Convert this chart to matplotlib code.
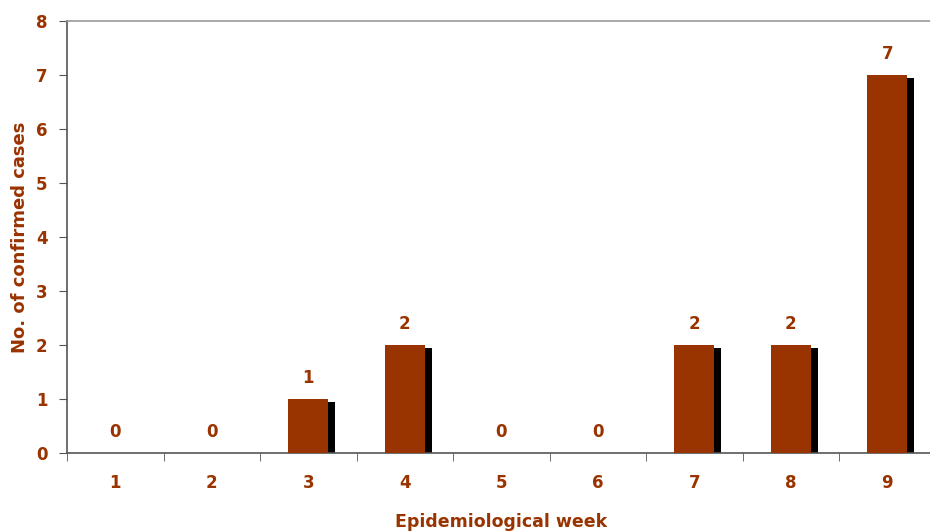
import numpy as np
import matplotlib.pyplot as plt

weeks = ["1", "2", "3", "4", "5", "6", "7", "8", "9"]
cases = [0, 0, 1, 2, 0, 0, 2, 2, 7]

red = "#993300"
plt.rcParams["font.family"] = ["DejaVu Sans"]
plt.rcParams["font.weight"] = "bold"

fig = plt.figure(figsize=(9.3, 5.32), dpi=100)
# the plot area runs a little past the right edge of the picture
ax = fig.add_axes([67 / 930, 79 / 532, 868.5 / 930, 432 / 532])

x = np.arange(len(weeks))
vals = np.array(cases, dtype=float)
w = 0.415

# black drop shadow behind the bars
has = vals > 0
ax.bar(x[has] + 0.073, vals[has] - 0.055, width=w, color="black", zorder=2)
ax.bar(x, vals, width=w, color=red, zorder=3)

for xi, v in zip(x, cases):
    ax.annotate(str(v), (xi, v), xytext=(0, 15), textcoords="offset points",
                ha="center", va="center", color=red, fontsize=12, fontweight="bold")

ax.set_xlim(-0.5, len(weeks) - 0.5)
ax.set_ylim(0, 8)
ax.set_yticks(range(0, 9))
ax.set_xticks(x)
ax.set_xticklabels(weeks)
ax.set_xticks(np.arange(-0.5, len(weeks)), minor=True)
ax.tick_params(axis="x", which="major", length=0, pad=15, labelsize=12, labelcolor=red)
ax.tick_params(axis="x", which="minor", length=6, color="#555555", direction="out")
ax.tick_params(axis="y", length=6, color="#555555", labelsize=12, labelcolor=red, pad=8)
for t in ax.get_xticklabels() + ax.get_yticklabels():
    t.set_fontweight("bold")

ax.spines["right"].set_visible(False)
ax.spines["top"].set_color("#999999")
ax.spines["left"].set_color("#555555")
ax.spines["bottom"].set_color("#555555")
for s in ax.spines.values():
    s.set_linewidth(1.2)

ax.set_xlabel("Epidemiological week", color=red, fontsize=12.5, fontweight="bold", labelpad=15)
ax.set_ylabel("No. of confirmed cases", color=red, fontsize=13, fontweight="bold", labelpad=5)

fig.savefig("out.png", dpi=100)
